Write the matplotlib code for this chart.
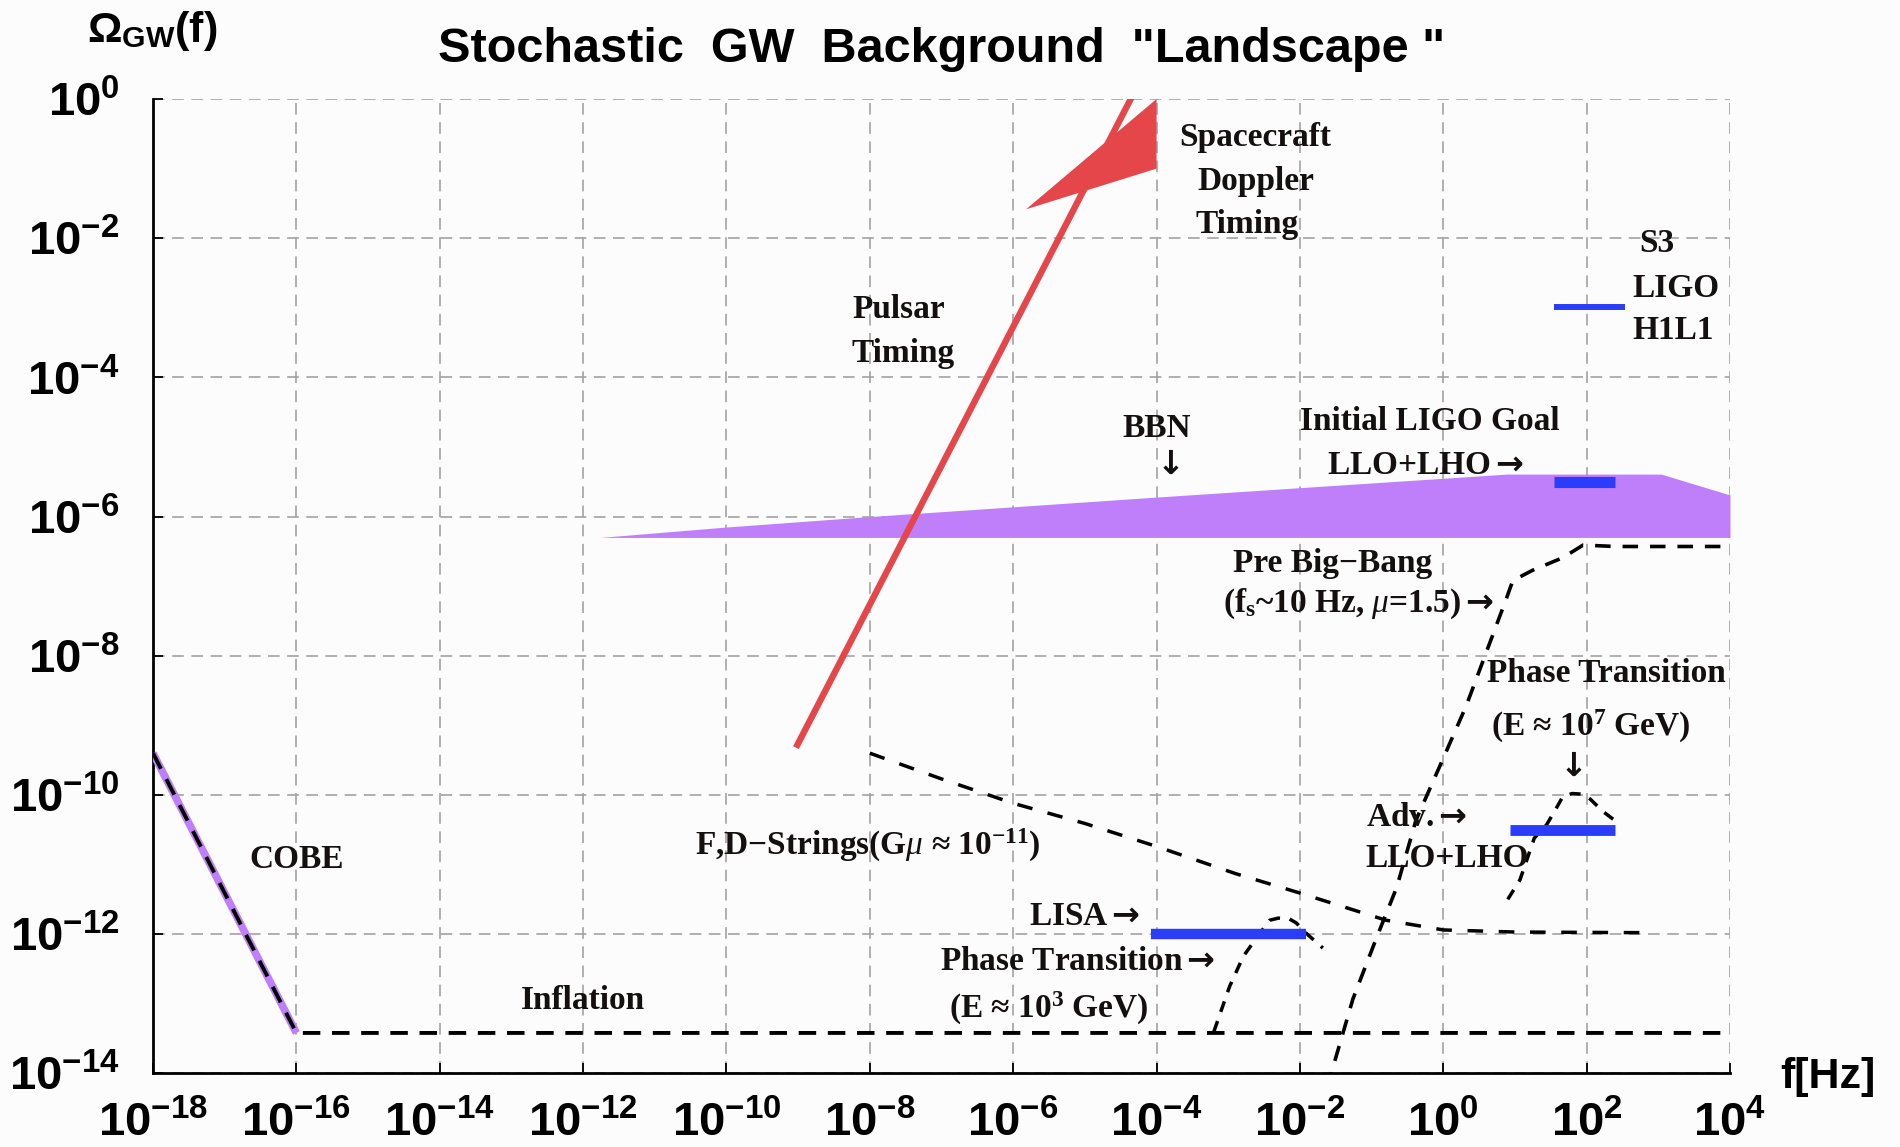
import numpy as np
import matplotlib
matplotlib.use("Agg")
import matplotlib.pyplot as plt

# ---------------- data (log10 values) ----------------
xtick_exp = [-18, -16, -14, -12, -10, -8, -6, -4, -2, 0, 2, 4]
ytick_exp = [0, -2, -4, -6, -8, -10, -12, -14]

cobe_logf = [-18.0, -16.0]
cobe_logO = [-9.40, -13.42]

inflation_logf = [-18.0, -16.0, 4.0]
inflation_logO = [-9.40, -13.42, -13.42]

pulsar_logf = [-9.03, -4.20]
pulsar_logO = [-9.32, 0.32]

doppler_logf = [-5.82, -4.0, -4.0]
doppler_logO = [-1.585, -1.0, 0.0]

bbn_logf = [-11.76, -10.0, -8.0, -4.0, 0.0, 0.88, 3.04, 4.0]
bbn_top_logO = [-6.30, -6.15, -6.00, -5.72, -5.45, -5.39, -5.39, -5.69]
bbn_bottom_logO = -6.30

strings_logf = [-8.0, -7.0, -6.0, -5.0, -4.0, -2.9, -2.0, -0.8, 0.0, 1.0, 2.9]
strings_logO = [-9.40, -9.77, -10.12, -10.41, -10.74, -11.13, -11.41, -11.80, -11.94, -11.97, -11.98]

pbb_logf = [-1.62, -1.26, -0.93, -0.65, -0.38, -0.05, 0.32, 0.60, 0.88, 0.97, 1.25, 1.67, 1.95, 2.40, 4.0]
pbb_logO = [-14.2, -12.93, -12.05, -11.33, -10.36, -9.59, -8.72, -7.95, -7.18, -6.92, -6.77, -6.59, -6.41, -6.43, -6.43]

pt3_logf = [-3.20, -2.98, -2.79, -2.56, -2.42, -2.30, -2.15, -2.05, -1.91, -1.68]
pt3_logO = [-13.40, -12.75, -12.32, -11.99, -11.80, -11.77, -11.78, -11.84, -11.99, -12.20]

pt7_logf = [0.90, 1.07, 1.27, 1.44, 1.55, 1.67, 1.80, 1.95, 2.05, 2.23, 2.41]
pt7_logO = [-11.50, -11.22, -10.62, -10.43, -10.24, -10.02, -9.98, -9.99, -10.06, -10.24, -10.38]

lisa_logf = [-4.08, -1.92]
lisa_logO = -12.0
adv_logf = [0.93, 2.40]
adv_logO = -10.51
init_logf = [1.55, 2.39]
init_logO = -5.50
s3_logf = [1.55, 2.54]
s3_logO = -2.99

# ---------------- style ----------------
plt.rcParams['mathtext.fontset'] = 'custom'
plt.rcParams['mathtext.rm'] = 'Liberation Sans:bold'
plt.rcParams['mathtext.bf'] = 'Liberation Sans:bold'
plt.rcParams['mathtext.sf'] = 'DejaVu Sans:bold'
plt.rcParams['mathtext.it'] = 'Liberation Serif:italic'

BG = '#fcfcfc'
RED = '#e5464a'
PURPLE = '#bf7ffb'
BLUE = '#2b3cfb'
SERIF = ['Liberation Serif', 'DejaVu Serif']
RARROW = '$\\mathsf{\\rightarrow}$'
DARROW = '$\\mathsf{\\downarrow}$'

def P(a):
    return 10.0 ** np.asarray(a, dtype=float)

fig = plt.figure(figsize=(19, 11.47), dpi=100, facecolor=BG)
ax = fig.add_axes([153/1900, 1 - 1073.3/1147, (1730 - 153)/1900, (1073.3 - 99)/1147])
ax.set_facecolor(BG)
ax.set_xscale('log')
ax.set_yscale('log')
ax.set_xlim(1e-18, 1e4)
ax.set_ylim(1e-14, 1e0)

# grid
ax.set_axisbelow(True)
ax.grid(True, which='major', color='#a3a3a3', linewidth=1.2, linestyle=(0, (7, 4.5)))
ax.minorticks_off()
ax.set_xticks(P(xtick_exp))
ax.set_yticks(P(ytick_exp))
ax.set_xticklabels(['$\\mathbf{10^{%d}}$' % e for e in xtick_exp])
ax.set_yticklabels(['$\\mathbf{10^{%d}}$' % e for e in ytick_exp])
ax.tick_params(axis='x', direction='in', length=7, width=1.3, labelsize=34, pad=20)
ax.tick_params(axis='y', direction='in', length=7, width=1.3, labelsize=34, pad=24)
for s in ['top', 'right']:
    ax.spines[s].set_visible(False)
for s in ['left', 'bottom']:
    ax.spines[s].set_linewidth(2.0)
    ax.spines[s].set_color('black')

# BBN region
ax.fill_between(P(bbn_logf), 10.0 ** bbn_bottom_logO, P(bbn_top_logO), color=PURPLE, lw=0, zorder=2)

# COBE + inflation
ax.plot(P(cobe_logf), P(cobe_logO), color=PURPLE, lw=5.5, solid_capstyle='butt', zorder=3)
ax.plot(P(inflation_logf), P(inflation_logO), color='black', lw=2.8,
        linestyle=(0, (4.5, 3.0)), zorder=4)

# Spacecraft doppler + pulsar timing
ax.fill(P(doppler_logf), P(doppler_logO), color=RED, lw=0, zorder=5)
ax.plot(P(pulsar_logf), P(pulsar_logO), color=RED, lw=4.6, solid_capstyle='butt', zorder=5)

# model curves
ax.plot(P(strings_logf), P(strings_logO), color='black', lw=2.5, linestyle=(0, (4.5, 4.5)), zorder=4)
ax.plot(P(pbb_logf), P(pbb_logO), color='black', lw=2.6, linestyle=(0, (4.3, 3.3)), zorder=4)
ax.plot(P(pt3_logf), P(pt3_logO), color='black', lw=2.5, linestyle=(0, (3.2, 2.8)), zorder=4)
ax.plot(P(pt7_logf), P(pt7_logO), color='black', lw=2.5, linestyle=(0, (3.2, 2.8)), zorder=4)

# detector sensitivities
ax.plot(P(lisa_logf), [10.0 ** lisa_logO] * 2, color=BLUE, lw=7.5, solid_capstyle='butt', zorder=6)
ax.plot(P(adv_logf), [10.0 ** adv_logO] * 2, color=BLUE, lw=7.8, solid_capstyle='butt', zorder=6)
ax.plot(P(init_logf), [10.0 ** init_logO] * 2, color=BLUE, lw=8.0, solid_capstyle='butt', zorder=6)
ax.plot(P(s3_logf), [10.0 ** s3_logO] * 2, color=BLUE, lw=4.3, solid_capstyle='butt', zorder=6)

# annotations
def note(lf, lO, s, ha='center', size=24):
    ax.text(10.0 ** lf, 10.0 ** lO, s, ha=ha, va='center', fontsize=size,
            family=SERIF, weight='bold', color='#141010', zorder=7)

note(-2.62, -0.56, 'Spacecraft')
note(-2.62, -1.19, 'Doppler')
note(-2.74, -1.80, 'Timing')
note(-7.60, -3.03, 'Pulsar')
note(-7.54, -3.66, 'Timing')
note(-4.0, -4.73, 'BBN')
note(-3.87, -5.27, DARROW)
note(-0.19, -4.64, 'Initial LIGO Goal')
note(-0.25, -5.26, 'LLO+LHO' + RARROW)
note(2.73, -2.08, 'S3', ha='left')
note(2.64, -2.72, 'LIGO', ha='left')
note(2.64, -3.32, 'H1L1', ha='left')
note(-1.54, -6.67, 'Pre Big\u2212Bang')
note(-1.18, -7.26, '(f$_\\mathregular{s}$~10 Hz, $\\mu$=1.5)' + RARROW)
note(2.27, -8.25, 'Phase Transition')
note(2.06, -9.01, '(E \u2248 10$^\\mathregular{7}$ GeV)')
note(1.76, -9.61, DARROW)
note(-0.37, -10.33, 'Adv.' + RARROW)
note(0.05, -10.92, 'LLO+LHO')
note(-5.0, -11.74, 'LISA' + RARROW)
note(-5.10, -12.39, 'Phase Transition' + RARROW)
note(-5.50, -13.07, '(E \u2248 10$^\\mathregular{3}$ GeV)')
note(-8.03, -10.73, 'F,D\u2212Strings(G$\\mu$ \u2248 10$^{\\mathregular{-11}}$)')
note(-15.99, -10.93, 'COBE')
note(-12.0, -12.95, 'Inflation')

# titles / axis labels
fig.text(941.5/1900, 1 - 50/1147, 'Stochastic  GW  Background  "Landscape "',
         ha='center', va='center', fontsize=35, weight='bold', family='Liberation Sans')
fig.text(152/1900, 1 - 31/1147, '$\\Omega_{\\mathbf{GW}}$(f)', ha='center', va='center',
         fontsize=31, weight='bold', family='Liberation Sans')
fig.text(1828/1900, 1 - 1077/1147, 'f[Hz]', ha='center', va='center',
         fontsize=31, weight='bold', family='Liberation Sans')

fig.savefig('out.png', dpi=100, facecolor=BG)
